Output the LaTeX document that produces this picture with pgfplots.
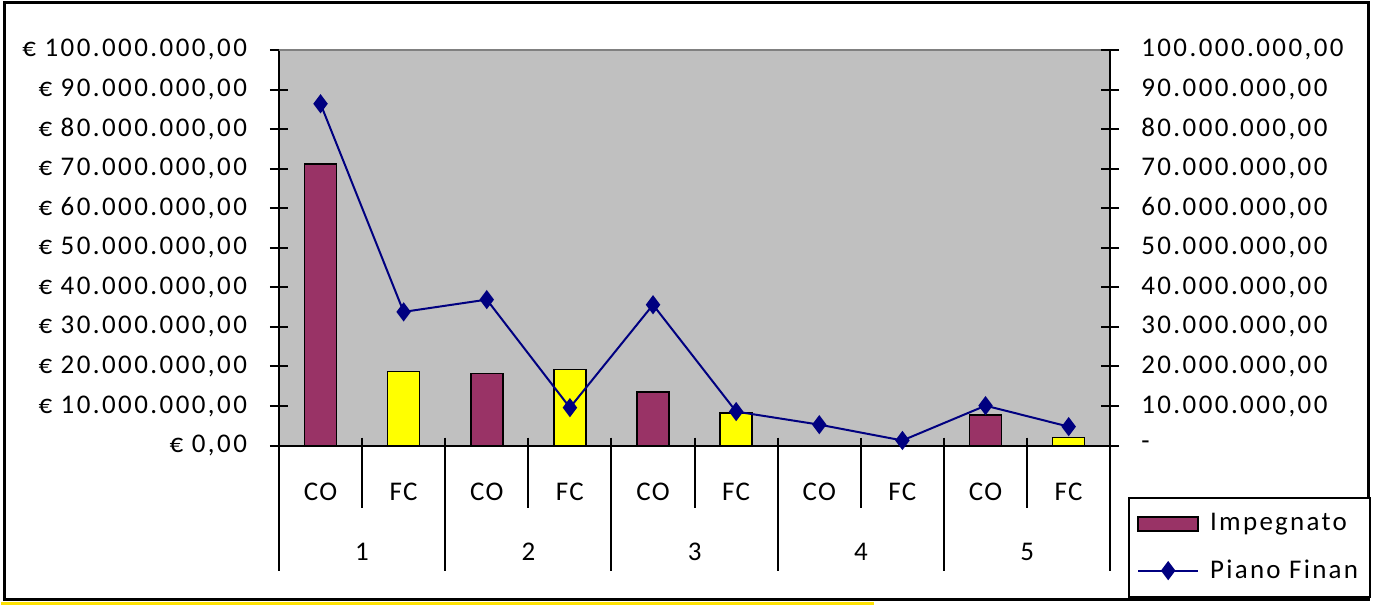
\documentclass[border=0pt]{standalone}
\usepackage{pgfplots}
\pgfplotsset{compat=1.18}
\usepackage{fontspec}
\setmainfont{Carlito}
\newfontfamily\legfont{Carlito}[LetterSpace=8.5]
\newfontfamily\tickfont{Carlito}[LetterSpace=9]
\newfontfamily\cofont{Carlito}[LetterSpace=5]
\definecolor{impe}{HTML}{993366}
\definecolor{fcyel}{HTML}{FFFF00}
\definecolor{plotgray}{HTML}{C0C0C0}
\definecolor{piano}{HTML}{000080}
\newcommand{\lblfont}{\tickfont\fontsize{13.5}{16}\selectfont}
\newcommand{\catfont}{\cofont\fontsize{13.5}{16}\selectfont}
\pgfplotsset{
  barlegend/.style={legend image code/.code={\path[draw=none,fill=none] (0pt,0pt) -- (34pt,0pt); \draw[##1] (0pt,-3.5pt) rectangle (30pt,3.5pt);}},
  linelegend/.style={legend image code/.code={\path[draw=none,fill=none] (0pt,0pt) -- (34pt,0pt); \draw[mark repeat=2, mark phase=2, ##1] plot coordinates {(0pt,0pt) (15pt,0pt) (30pt,0pt)};}},
}

\begin{document}
\begin{tikzpicture}
% page and frame (1px = 0.5pt, origin at the plot's lower left corner)
\fill[white] (-139pt,-79.5pt) rectangle (548pt,223pt);
\draw[yellow!85!orange, line width=1.2pt] (-139pt,-79pt) -- (298pt,-79pt);
\draw[black, line width=1.5pt] (-137.5pt,221.5pt) rectangle (545pt,-77pt);

\begin{axis}[
    at={(0pt,0pt)}, anchor=south west,
    scale only axis, width=416pt, height=198pt,
    xmin=-0.5, xmax=9.5, ymin=0, ymax=100,
    axis x line*=bottom, axis y line*=left,
    axis line style={black, line width=1pt},
    axis background/.style={fill=plotgray},
    tick align=center, major tick length=9pt,
    tick style={black, line width=1pt},
    ytick={0,10,...,100},
    yticklabels={{€ 0,00},{€ 10.000.000,00},{€ 20.000.000,00},{€ 30.000.000,00},{€ 40.000.000,00},{€ 50.000.000,00},{€ 60.000.000,00},{€ 70.000.000,00},{€ 80.000.000,00},{€ 90.000.000,00},{€ 100.000.000,00}},
    yticklabel style={font=\lblfont, xshift=-8pt},
    xtick={0,...,9},
    xticklabels={CO,FC,CO,FC,CO,FC,CO,FC,CO,FC},
    x tick style={draw=none},
    xticklabel style={font=\catfont, anchor=center, yshift=-14pt},
    ybar, bar width=16pt, bar shift=0pt,
    clip=false,
]
% Impegnato (values in millions of euro)
\addplot[fill=impe, draw=black, line width=0.8pt] coordinates {(0,71.2) (2,18.2) (4,13.6) (6,0) (8,7.8)};
\addplot[fill=fcyel, draw=black, line width=0.8pt] coordinates {(1,18.7) (3,19.2) (5,8.3) (7,0) (9,2.0)};
\draw[gray, line width=1pt] (rel axis cs:0,1) -- (rel axis cs:1,1);
% category separators
\draw[black, line width=1pt]
  (axis cs:-0.5,0) -- ++(0pt,-62.5pt)
  (axis cs:1.5,0) ++(0pt,4pt) -- ++(0pt,-66.5pt)
  (axis cs:3.5,0) ++(0pt,4pt) -- ++(0pt,-66.5pt)
  (axis cs:5.5,0) ++(0pt,4pt) -- ++(0pt,-66.5pt)
  (axis cs:7.5,0) ++(0pt,4pt) -- ++(0pt,-66.5pt)
  (axis cs:9.5,0) -- ++(0pt,-62.5pt)
  (axis cs:0.5,0) ++(0pt,4pt) -- ++(0pt,-35pt)
  (axis cs:2.5,0) ++(0pt,4pt) -- ++(0pt,-35pt)
  (axis cs:4.5,0) ++(0pt,4pt) -- ++(0pt,-35pt)
  (axis cs:6.5,0) ++(0pt,4pt) -- ++(0pt,-35pt)
  (axis cs:8.5,0) ++(0pt,4pt) -- ++(0pt,-35pt);
\node[font=\catfont] at (axis cs:0.5,0) [yshift=-53pt] {1};
\node[font=\catfont] at (axis cs:2.5,0) [yshift=-53pt] {2};
\node[font=\catfont] at (axis cs:4.5,0) [yshift=-53pt] {3};
\node[font=\catfont] at (axis cs:6.5,0) [yshift=-53pt] {4};
\node[font=\catfont] at (axis cs:8.5,0) [yshift=-53pt] {5};
\end{axis}

\begin{axis}[
    at={(0pt,0pt)}, anchor=south west,
    scale only axis, width=416pt, height=198pt,
    xmin=-0.5, xmax=9.5, ymin=0, ymax=100,
    axis x line=none, axis y line*=right,
    axis line style={black, line width=1pt},
    tick align=center, major tick length=9pt,
    tick style={black, line width=1pt},
    ytick={0,10,...,100},
    yticklabels={-,{10.000.000,00},{20.000.000,00},{30.000.000,00},{40.000.000,00},{50.000.000,00},{60.000.000,00},{70.000.000,00},{80.000.000,00},{90.000.000,00},{100.000.000,00}},
    yticklabel style={font=\lblfont, anchor=west, xshift=7.5pt},
    clip=false,
    legend style={at={(1.0216,-0.1288)}, anchor=north west, draw=black, line width=1pt,
      fill=white, font=\legfont\fontsize{13.5}{16}\selectfont, row sep=9pt,
      inner xsep=4pt, inner ysep=6pt},
    legend cell align=left,
]
\addlegendimage{fill=impe, draw=black, line width=0.8pt, barlegend}
\addlegendentry{Impegnato}
\addplot[piano, line width=1pt, mark=diamond*, mark size=4pt,
  mark options={fill=piano, draw=piano}, linelegend]
  coordinates {(0,86.4) (1,33.8) (2,36.9) (3,9.6) (4,35.6) (5,8.6) (6,5.3) (7,1.3) (8,10.1) (9,4.8)};
\addlegendentry{Piano Finan}
\end{axis}
\end{tikzpicture}
\end{document}
